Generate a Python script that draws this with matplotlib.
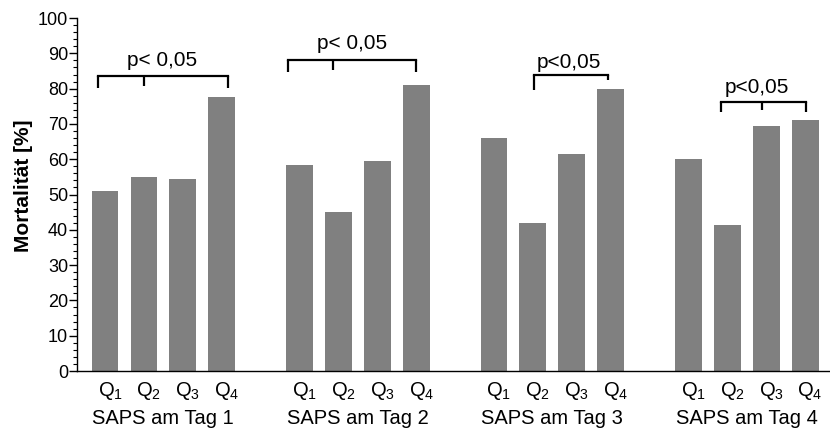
import matplotlib
matplotlib.use("Agg")
import matplotlib.pyplot as plt
from matplotlib.ticker import MultipleLocator
import matplotlib.transforms as mtransforms

plt.rcParams['font.family'] = ['Liberation Sans', 'DejaVu Sans']
plt.rcParams['mathtext.fontset'] = 'custom'
plt.rcParams['mathtext.rm'] = 'Liberation Sans'
plt.rcParams['mathtext.it'] = 'Liberation Sans'
plt.rcParams['mathtext.default'] = 'regular'

groups = ["SAPS am Tag 1", "SAPS am Tag 2", "SAPS am Tag 3", "SAPS am Tag 4"]
quartiles = ["Q$_1$", "Q$_2$", "Q$_3$", "Q$_4$"]
values = [
    [51.0, 55.0, 54.5, 77.5],
    [58.5, 45.0, 59.5, 81.0],
    [66.0, 42.0, 61.5, 80.0],
    [60.0, 41.5, 69.5, 71.0],
]
# significance brackets
br_labels = ["p< 0,05", "p< 0,05", "p<0,05", "p<0,05"]
br_left = [-0.17, 4.70, 11.04, 15.84]
br_right = [3.16, 8.0, 12.93, 18.03]
br_mid = [0.99, 5.86, None, 16.9]
br_height = [83.6, 88.1, 83.9, 76.2]
br_left_drop = [3.4, 3.4, 4.3, 2.8]
br_right_drop = [3.4, 3.4, 1.5, 2.8]
br_text_x = [1.46, 6.35, 11.92, 16.77]
br_text_y = [86.4, 91.2, 85.8, 78.8]

fig = plt.figure(figsize=(8.3, 4.3), dpi=100)
ax = fig.add_axes([0.0928, 0.1372, 0.9072, 0.8208])

bar_color = "#808080"
positions = []
for g, vals in enumerate(values):
    xs = [g * 5 + i for i in range(4)]
    positions.append(xs)
    ax.bar(xs, vals, width=0.69, color=bar_color, zorder=2)

ax.set_xlim(-0.72, 18.64)
ax.set_ylim(0, 100)
ax.yaxis.set_major_locator(MultipleLocator(10))
ax.yaxis.set_minor_locator(MultipleLocator(2))
ax.tick_params(axis='y', which='major', length=5.5, width=1, labelsize=13, pad=1)
ax.tick_params(axis='y', which='minor', length=3, width=0.8)
ax.set_xticks([])
for s in ["top", "right"]:
    ax.spines[s].set_visible(False)
ax.spines["left"].set_linewidth(1.0)
ax.spines["bottom"].set_linewidth(1.0)
ax.set_ylabel("Mortalität [%]", fontsize=15, fontweight='bold')
ax.yaxis.set_label_coords(-0.059, 0.525)

trans = mtransforms.blended_transform_factory(ax.transData, ax.transAxes)
for g, xs in enumerate(positions):
    for x, q in zip(xs, quartiles):
        ax.text(x + 0.13, -0.026, q, transform=trans, ha='center', va='top', fontsize=14.5)
    ax.text((xs[0] + xs[3]) / 2, -0.108, groups[g], transform=trans,
            ha='center', va='top', fontsize=14.5)

for i in range(len(br_labels)):
    x0, x1, h = br_left[i], br_right[i], br_height[i]
    ax.plot([x0, x1], [h, h], color='black', lw=1.6, solid_capstyle='projecting', zorder=3)
    ax.plot([x0, x0], [h, h - br_left_drop[i]], color='black', lw=1.6,
            solid_capstyle='butt', zorder=3)
    ax.plot([x1, x1], [h, h - br_right_drop[i]], color='black', lw=1.6,
            solid_capstyle='butt', zorder=3)
    if br_mid[i] is not None:
        ax.plot([br_mid[i], br_mid[i]], [h, h - br_left_drop[i] * 0.8], color='black',
                lw=1.6, solid_capstyle='butt', zorder=3)
    ax.text(br_text_x[i], br_text_y[i], br_labels[i], ha='center', va='baseline', fontsize=15)

fig.savefig("out.png", dpi=100)
